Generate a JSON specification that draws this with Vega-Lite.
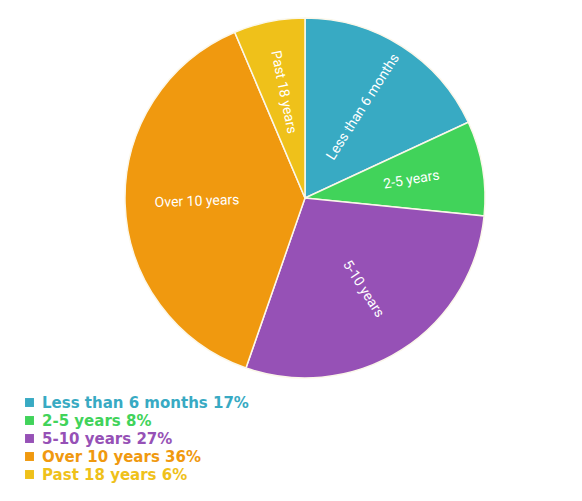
{
  "$schema": "https://vega.github.io/schema/vega-lite/v6.json",
  "autosize": "none",
  "width": 554,
  "height": 396,
  "padding": {"left": 28, "top": 0, "right": 0, "bottom": 105},
  "background": "white",
  "config": {"view": {"stroke": null}},
  "data": {
    "values": [
      {"category": "Less than 6 months", "legend": "Less than 6 months 17%", "value": 17, "order": 1},
      {"category": "2-5 years", "legend": "2-5 years 8%", "value": 8, "order": 2},
      {"category": "5-10 years", "legend": "5-10 years 27%", "value": 27, "order": 3},
      {"category": "Over 10 years", "legend": "Over 10 years 36%", "value": 36, "order": 4},
      {"category": "Past 18 years", "legend": "Past 18 years 6%", "value": 6, "order": 5}
    ]
  },
  "encoding": {
    "theta": {"field": "value", "type": "quantitative", "stack": true},
    "order": {"field": "order", "type": "quantitative", "sort": "ascending"}
  },
  "layer": [
    {
      "mark": {"type": "arc", "outerRadius": 180, "stroke": "#fbf7ea", "strokeWidth": 1.5},
      "encoding": {
        "color": {
          "field": "legend",
          "type": "nominal",
          "sort": ["Less than 6 months 17%", "2-5 years 8%", "5-10 years 27%", "Over 10 years 36%", "Past 18 years 6%"],
          "scale": {
            "domain": ["Less than 6 months 17%", "2-5 years 8%", "5-10 years 27%", "Over 10 years 36%", "Past 18 years 6%"],
            "range": ["#38AAC3", "#41D35A", "#9651B6", "#F0990F", "#EFC11A"]
          },
          "legend": {
            "title": null,
            "orient": "none",
            "legendX": -6,
            "legendY": 395,
            "symbolType": "square",
            "symbolSize": 80,
            "symbolStrokeWidth": 0,
            "labelFont": "DejaVu Sans",
            "labelFontSize": 15,
            "labelFontWeight": "bold",
            "labelColor": {"expr": "scale('color', datum.value)"},
            "labelOffset": 5,
            "rowPadding": 2,
            "labelLimit": 400
          }
        }
      }
    },
    {
      "transform": [
        {"joinaggregate": [{"op": "sum", "field": "value", "as": "total"}]},
        {"window": [{"op": "sum", "field": "value", "as": "cum"}], "frame": [null, 0], "sort": [{"field": "order"}]},
        {"calculate": "360 * (datum.cum - datum.value / 2) / datum.total", "as": "mid"},
        {"calculate": "datum.mid > 180 ? datum.mid - 270 : datum.mid - 90", "as": "rot"}
      ],
      "mark": {"type": "text", "radius": 108, "fontSize": 14, "font": "Roboto", "fill": "white"},
      "encoding": {
        "text": {"field": "category", "type": "nominal"},
        "angle": {"field": "rot", "type": "quantitative", "scale": null},
        "color": {"value": "white"}
      }
    }
  ]
}
